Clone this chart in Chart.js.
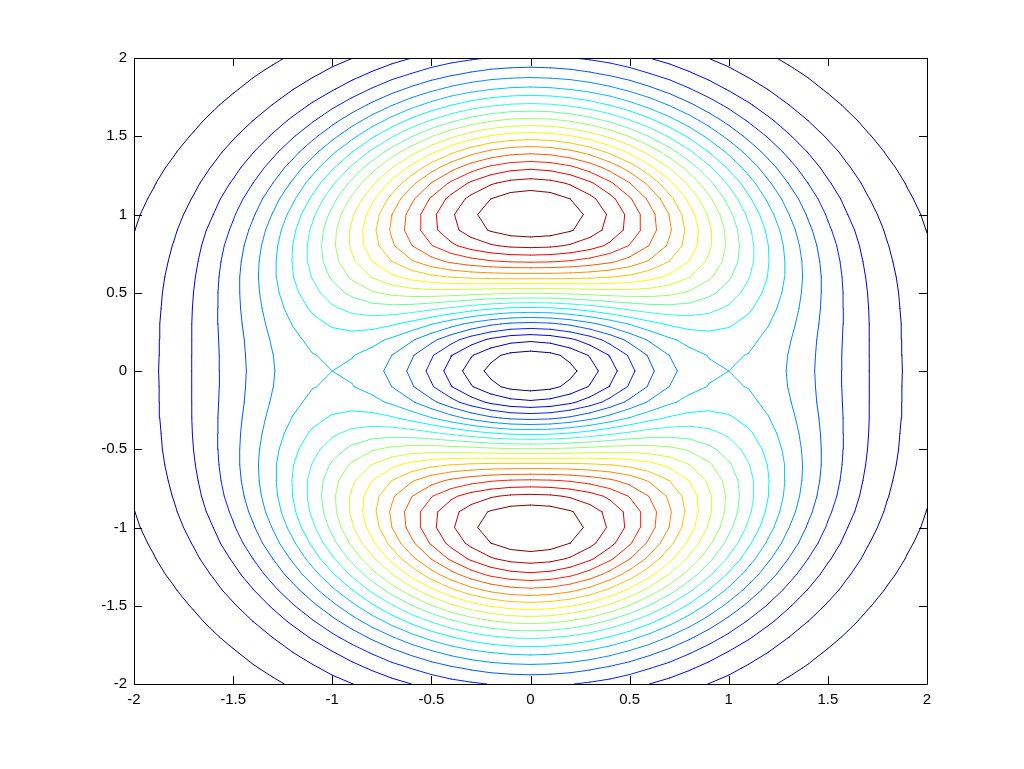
<!DOCTYPE html>
<html>
<head>
<meta charset="utf-8">
<script src="https://cdn.jsdelivr.net/npm/chart.js@4.4.1/dist/chart.umd.min.js"></script>
<style>
  body { margin: 0; background: #fff; }
  canvas { display: block; }
</style>
</head>
<body>
<canvas id="contour" width="1024" height="769"></canvas>
<script>
// grid the surface was sampled on (-2:0.1:2 both ways)
const gridX = [-2, -1.9, -1.8, -1.7, -1.6, -1.5, -1.4, -1.3, -1.2, -1.1, -1, -0.9, -0.8, -0.7, -0.6, -0.5, -0.4, -0.3, -0.2, -0.1,
               0, 0.1, 0.2, 0.3, 0.4, 0.5, 0.6, 0.7, 0.8, 0.9, 1, 1.1, 1.2, 1.3, 1.4, 1.5, 1.6, 1.7, 1.8, 1.9, 2];
const gridY = [-2, -1.9, -1.8, -1.7, -1.6, -1.5, -1.4, -1.3, -1.2, -1.1, -1, -0.9, -0.8, -0.7, -0.6, -0.5, -0.4, -0.3, -0.2, -0.1,
               0, 0.1, 0.2, 0.3, 0.4, 0.5, 0.6, 0.7, 0.8, 0.9, 1, 1.1, 1.2, 1.3, 1.4, 1.5, 1.6, 1.7, 1.8, 1.9, 2];

// z values, one row per gridY entry (bottom row first)
const zValues = [
  [.005,.008,.011,.015,.021,.028,.036,.046,.058,.072,.088,.104,.122,.140,.158,.175,.190,.202,.212,.218,.220,.218,.212,.202,.190,.175,.158,.140,.122,.104,.088,.072,.058,.046,.036,.028,.021,.015,.011,.008,.005],
  [.007,.011,.015,.021,.028,.037,.049,.062,.079,.097,.118,.140,.164,.188,.211,.233,.253,.270,.283,.290,.293,.290,.283,.270,.253,.233,.211,.188,.164,.140,.118,.097,.079,.062,.049,.037,.028,.021,.015,.011,.007],
  [.010,.014,.020,.027,.037,.049,.064,.082,.104,.128,.154,.183,.214,.245,.275,.304,.330,.351,.367,.377,.381,.377,.367,.351,.330,.304,.275,.245,.214,.183,.154,.128,.104,.082,.064,.049,.037,.027,.020,.014,.010],
  [.013,.018,.026,.036,.048,.064,.083,.106,.133,.164,.198,.234,.273,.312,.350,.386,.418,.445,.465,.478,.482,.478,.465,.445,.418,.386,.350,.312,.273,.234,.198,.164,.133,.106,.083,.064,.048,.036,.026,.018,.013],
  [.017,.024,.033,.045,.061,.081,.105,.134,.167,.205,.247,.292,.339,.387,.434,.477,.516,.549,.573,.589,.594,.589,.573,.549,.516,.477,.434,.387,.339,.292,.247,.205,.167,.134,.105,.081,.061,.045,.033,.024,.017],
  [.021,.030,.041,.056,.076,.100,.129,.164,.205,.250,.300,.354,.411,.467,.523,.575,.621,.659,.688,.705,.711,.705,.688,.659,.621,.575,.523,.467,.411,.354,.300,.250,.205,.164,.129,.100,.076,.056,.041,.030,.021],
  [.025,.036,.050,.069,.092,.121,.156,.197,.244,.298,.357,.419,.484,.550,.613,.672,.725,.769,.801,.821,.828,.821,.801,.769,.725,.672,.613,.550,.484,.419,.357,.298,.244,.197,.156,.121,.092,.069,.050,.036,.025],
  [.031,.043,.060,.082,.109,.142,.183,.230,.285,.346,.412,.483,.556,.629,.699,.765,.822,.870,.906,.928,.936,.928,.906,.870,.822,.765,.699,.629,.556,.483,.412,.346,.285,.230,.183,.142,.109,.082,.060,.043,.031],
  [.036,.051,.070,.095,.126,.164,.210,.263,.323,.391,.464,.541,.620,.698,.774,.843,.904,.955,.993,1.016,1.024,1.016,.993,.955,.904,.843,.774,.698,.620,.541,.464,.391,.323,.263,.210,.164,.126,.095,.070,.051,.036],
  [.042,.058,.080,.108,.143,.185,.235,.293,.358,.430,.508,.589,.671,.753,.830,.901,.963,1.014,1.051,1.075,1.082,1.075,1.051,1.014,.963,.901,.830,.753,.671,.589,.508,.430,.358,.293,.235,.185,.143,.108,.080,.058,.042],
  [.047,.066,.090,.120,.158,.204,.257,.318,.387,.462,.541,.624,.706,.787,.862,.931,.991,1.039,1.075,1.096,1.104,1.096,1.075,1.039,.991,.931,.862,.787,.706,.624,.541,.462,.387,.318,.257,.204,.158,.120,.090,.066,.047],
  [.052,.073,.099,.132,.172,.219,.275,.338,.408,.483,.561,.641,.720,.796,.866,.929,.982,1.025,1.056,1.075,1.081,1.075,1.056,1.025,.982,.929,.866,.796,.720,.641,.561,.483,.408,.338,.275,.219,.172,.132,.099,.073,.052],
  [.057,.079,.107,.141,.183,.232,.288,.351,.420,.492,.566,.640,.712,.779,.839,.891,.935,.969,.993,1.008,1.012,1.008,.993,.969,.935,.891,.839,.779,.712,.640,.566,.492,.420,.351,.288,.232,.183,.141,.107,.079,.057],
  [.061,.084,.113,.148,.191,.240,.296,.357,.422,.490,.557,.621,.682,.736,.782,.821,.851,.873,.889,.898,.901,.898,.889,.873,.851,.821,.782,.736,.682,.621,.557,.490,.422,.357,.296,.240,.191,.148,.113,.084,.061],
  [.065,.089,.118,.154,.196,.245,.299,.357,.417,.476,.534,.587,.633,.671,.701,.723,.737,.746,.751,.753,.753,.753,.751,.746,.737,.723,.701,.671,.633,.587,.534,.476,.417,.357,.299,.245,.196,.154,.118,.089,.065],
  [.068,.092,.122,.158,.199,.246,.297,.351,.404,.455,.501,.540,.571,.592,.603,.607,.604,.598,.591,.586,.584,.586,.591,.598,.604,.607,.603,.592,.571,.540,.501,.455,.404,.351,.297,.246,.199,.158,.122,.092,.068],
  [.070,.094,.124,.160,.200,.245,.293,.341,.388,.429,.464,.489,.503,.506,.499,.484,.465,.444,.426,.413,.409,.413,.426,.444,.465,.484,.499,.506,.503,.489,.464,.429,.388,.341,.293,.245,.200,.160,.124,.094,.070],
  [.071,.096,.126,.161,.200,.243,.287,.331,.370,.403,.427,.439,.439,.426,.402,.370,.335,.301,.272,.253,.247,.253,.272,.301,.335,.370,.402,.426,.439,.439,.427,.403,.370,.331,.287,.243,.200,.161,.126,.096,.071],
  [.073,.097,.126,.161,.199,.240,.281,.321,.355,.381,.396,.397,.385,.359,.322,.277,.229,.184,.148,.124,.115,.124,.148,.184,.229,.277,.322,.359,.385,.397,.396,.381,.355,.321,.281,.240,.199,.161,.126,.097,.073],
  [.073,.097,.127,.161,.198,.238,.278,.314,.345,.366,.375,.370,.350,.315,.269,.216,.160,.109,.067,.039,.030,.039,.067,.109,.160,.216,.269,.315,.350,.370,.375,.366,.345,.314,.278,.238,.198,.161,.127,.097,.073],
  [.073,.098,.127,.161,.198,.237,.276,.312,.341,.361,.368,.360,.337,.300,.251,.195,.136,.082,.038,.010,0,.010,.038,.082,.136,.195,.251,.300,.337,.360,.368,.361,.341,.312,.276,.237,.198,.161,.127,.098,.073],
  [.073,.097,.127,.161,.198,.238,.278,.314,.345,.366,.375,.370,.350,.315,.269,.216,.160,.109,.067,.039,.030,.039,.067,.109,.160,.216,.269,.315,.350,.370,.375,.366,.345,.314,.278,.238,.198,.161,.127,.097,.073],
  [.073,.097,.126,.161,.199,.240,.281,.321,.355,.381,.396,.397,.385,.359,.322,.277,.229,.184,.148,.124,.115,.124,.148,.184,.229,.277,.322,.359,.385,.397,.396,.381,.355,.321,.281,.240,.199,.161,.126,.097,.073],
  [.071,.096,.126,.161,.200,.243,.287,.331,.370,.403,.427,.439,.439,.426,.402,.370,.335,.301,.272,.253,.247,.253,.272,.301,.335,.370,.402,.426,.439,.439,.427,.403,.370,.331,.287,.243,.200,.161,.126,.096,.071],
  [.070,.094,.124,.160,.200,.245,.293,.341,.388,.429,.464,.489,.503,.506,.499,.484,.465,.444,.426,.413,.409,.413,.426,.444,.465,.484,.499,.506,.503,.489,.464,.429,.388,.341,.293,.245,.200,.160,.124,.094,.070],
  [.068,.092,.122,.158,.199,.246,.297,.351,.404,.455,.501,.540,.571,.592,.603,.607,.604,.598,.591,.586,.584,.586,.591,.598,.604,.607,.603,.592,.571,.540,.501,.455,.404,.351,.297,.246,.199,.158,.122,.092,.068],
  [.065,.089,.118,.154,.196,.245,.299,.357,.417,.476,.534,.587,.633,.671,.701,.723,.737,.746,.751,.753,.753,.753,.751,.746,.737,.723,.701,.671,.633,.587,.534,.476,.417,.357,.299,.245,.196,.154,.118,.089,.065],
  [.061,.084,.113,.148,.191,.240,.296,.357,.422,.490,.557,.621,.682,.736,.782,.821,.851,.873,.889,.898,.901,.898,.889,.873,.851,.821,.782,.736,.682,.621,.557,.490,.422,.357,.296,.240,.191,.148,.113,.084,.061],
  [.057,.079,.107,.141,.183,.232,.288,.351,.420,.492,.566,.640,.712,.779,.839,.891,.935,.969,.993,1.008,1.012,1.008,.993,.969,.935,.891,.839,.779,.712,.640,.566,.492,.420,.351,.288,.232,.183,.141,.107,.079,.057],
  [.052,.073,.099,.132,.172,.219,.275,.338,.408,.483,.561,.641,.720,.796,.866,.929,.982,1.025,1.056,1.075,1.081,1.075,1.056,1.025,.982,.929,.866,.796,.720,.641,.561,.483,.408,.338,.275,.219,.172,.132,.099,.073,.052],
  [.047,.066,.090,.120,.158,.204,.257,.318,.387,.462,.541,.624,.706,.787,.862,.931,.991,1.039,1.075,1.096,1.104,1.096,1.075,1.039,.991,.931,.862,.787,.706,.624,.541,.462,.387,.318,.257,.204,.158,.120,.090,.066,.047],
  [.042,.058,.080,.108,.143,.185,.235,.293,.358,.430,.508,.589,.671,.753,.830,.901,.963,1.014,1.051,1.075,1.082,1.075,1.051,1.014,.963,.901,.830,.753,.671,.589,.508,.430,.358,.293,.235,.185,.143,.108,.080,.058,.042],
  [.036,.051,.070,.095,.126,.164,.210,.263,.323,.391,.464,.541,.620,.698,.774,.843,.904,.955,.993,1.016,1.024,1.016,.993,.955,.904,.843,.774,.698,.620,.541,.464,.391,.323,.263,.210,.164,.126,.095,.070,.051,.036],
  [.031,.043,.060,.082,.109,.142,.183,.230,.285,.346,.412,.483,.556,.629,.699,.765,.822,.870,.906,.928,.936,.928,.906,.870,.822,.765,.699,.629,.556,.483,.412,.346,.285,.230,.183,.142,.109,.082,.060,.043,.031],
  [.025,.036,.050,.069,.092,.121,.156,.197,.244,.298,.357,.419,.484,.550,.613,.672,.725,.769,.801,.821,.828,.821,.801,.769,.725,.672,.613,.550,.484,.419,.357,.298,.244,.197,.156,.121,.092,.069,.050,.036,.025],
  [.021,.030,.041,.056,.076,.100,.129,.164,.205,.250,.300,.354,.411,.467,.523,.575,.621,.659,.688,.705,.711,.705,.688,.659,.621,.575,.523,.467,.411,.354,.300,.250,.205,.164,.129,.100,.076,.056,.041,.030,.021],
  [.017,.024,.033,.045,.061,.081,.105,.134,.167,.205,.247,.292,.339,.387,.434,.477,.516,.549,.573,.589,.594,.589,.573,.549,.516,.477,.434,.387,.339,.292,.247,.205,.167,.134,.105,.081,.061,.045,.033,.024,.017],
  [.013,.018,.026,.036,.048,.064,.083,.106,.133,.164,.198,.234,.273,.312,.350,.386,.418,.445,.465,.478,.482,.478,.465,.445,.418,.386,.350,.312,.273,.234,.198,.164,.133,.106,.083,.064,.048,.036,.026,.018,.013],
  [.010,.014,.020,.027,.037,.049,.064,.082,.104,.128,.154,.183,.214,.245,.275,.304,.330,.351,.367,.377,.381,.377,.367,.351,.330,.304,.275,.245,.214,.183,.154,.128,.104,.082,.064,.049,.037,.027,.020,.014,.010],
  [.007,.011,.015,.021,.028,.037,.049,.062,.079,.097,.118,.140,.164,.188,.211,.233,.253,.270,.283,.290,.293,.290,.283,.270,.253,.233,.211,.188,.164,.140,.118,.097,.079,.062,.049,.037,.028,.021,.015,.011,.007],
  [.005,.008,.011,.015,.021,.028,.036,.046,.058,.072,.088,.104,.122,.140,.158,.175,.190,.202,.212,.218,.220,.218,.212,.202,.190,.175,.158,.140,.122,.104,.088,.072,.058,.046,.036,.028,.021,.015,.011,.008,.005]
];

// 20 contour levels
const levels = [0.053, 0.105, 0.158, 0.210, 0.263, 0.315, 0.368, 0.420, 0.473, 0.526,
                0.578, 0.631, 0.683, 0.736, 0.788, 0.841, 0.894, 0.946, 0.999, 1.051];

const tickValues = [-2, -1.5, -1, -0.5, 0, 0.5, 1, 1.5, 2];

// jet colormap, t in [0, 1]
const jet = (t) => {
    const clamp = v => Math.max(0, Math.min(1, v));
    const r = clamp(1.5 - Math.abs(4 * t - 3));
    const g = clamp(1.5 - Math.abs(4 * t - 2));
    const b = clamp(1.5 - Math.abs(4 * t - 1));
    return `rgb(${Math.round(r * 255)}, ${Math.round(g * 255)}, ${Math.round(b * 255)})`;
}

// marching squares -> list of [p, q] segments
const contourSegments = (level) => {
    const segs = [];
    for (let j = 0; j < gridY.length - 1; j++) {
        for (let i = 0; i < gridX.length - 1; i++) {
            const c = [
                { x: gridX[i], y: gridY[j], v: zValues[j][i] },
                { x: gridX[i + 1], y: gridY[j], v: zValues[j][i + 1] },
                { x: gridX[i + 1], y: gridY[j + 1], v: zValues[j + 1][i + 1] },
                { x: gridX[i], y: gridY[j + 1], v: zValues[j + 1][i] },
            ];
            const pts = [];
            for (let e = 0; e < 4; e++) {
                const a = c[e], b = c[(e + 1) % 4];
                if ((a.v >= level) !== (b.v >= level)) {
                    const t = (level - a.v) / (b.v - a.v);
                    pts[e] = { x: a.x + t * (b.x - a.x), y: a.y + t * (b.y - a.y) };
                }
            }
            const hit = [0, 1, 2, 3].filter(e => pts[e]);
            if (hit.length === 2) {
                segs.push([pts[hit[0]], pts[hit[1]]]);
            } else if (hit.length === 4) {
                const center = (c[0].v + c[1].v + c[2].v + c[3].v) / 4;
                if ((center >= level) === (c[0].v >= level)) {
                    segs.push([pts[0], pts[1]], [pts[2], pts[3]]);
                } else {
                    segs.push([pts[3], pts[0]], [pts[1], pts[2]]);
                }
            }
        }
    }
    return segs;
}

const datasets = levels.map((level, k) => ({
    data: contourSegments(level).flatMap(([p, q]) => [p, q, { x: q.x, y: null }]),
    showLine: true,
    spanGaps: false,
    fill: false,
    pointRadius: 0,
    borderWidth: 1,
    borderCapStyle: 'round',
    borderColor: jet(k / (levels.length - 1)),
}));

// box around the axes and inward tick marks on all four sides
const matlabFrame = {
    id: 'matlabFrame',
    afterDraw: (chart) => {
        const { ctx, chartArea: { left, right, top, bottom }, scales: { x, y } } = chart;
        ctx.save();
        ctx.strokeStyle = '#000';
        ctx.lineWidth = 1;
        ctx.beginPath();
        ctx.rect(left + 0.5, top + 0.5, right - left, bottom - top);
        tickValues.forEach(v => {
            const px = Math.round(x.getPixelForValue(v)) + 0.5;
            ctx.moveTo(px, bottom); ctx.lineTo(px, bottom - 8);
            ctx.moveTo(px, top); ctx.lineTo(px, top + 8);
            const py = Math.round(y.getPixelForValue(v)) + 0.5;
            ctx.moveTo(left, py); ctx.lineTo(left + 8, py);
            ctx.moveTo(right, py); ctx.lineTo(right - 8, py);
        });
        ctx.stroke();
        ctx.restore();
    }
};

const axisOptions = (afterFit, padding) => ({
    type: 'linear',
    min: -2,
    max: 2,
    grid: { display: false, drawTicks: false },
    border: { display: false },
    afterBuildTicks: scale => { scale.ticks = tickValues.map(v => ({ value: v })); },
    afterFit,
    ticks: {
        padding,
        color: '#000',
        font: { family: '"Liberation Sans", Arial, sans-serif', size: 15 },
        callback: v => String(v),
    },
});

window.onload = () => {
    const ctx = document.getElementById('contour').getContext('2d');
    new Chart(ctx, {
        type: 'scatter',
        data: { datasets },
        options: {
            responsive: false,
            animation: false,
            layout: { padding: { left: 0, top: 58, right: 97, bottom: 0 } },
            plugins: { legend: { display: false }, tooltip: { enabled: false } },
            scales: {
                x: axisOptions(scale => { scale.height = 85; }, 7),
                y: axisOptions(scale => { scale.width = 134; }, 7),
            },
        },
        plugins: [matlabFrame],
    });
}
</script>
</body>
</html>
